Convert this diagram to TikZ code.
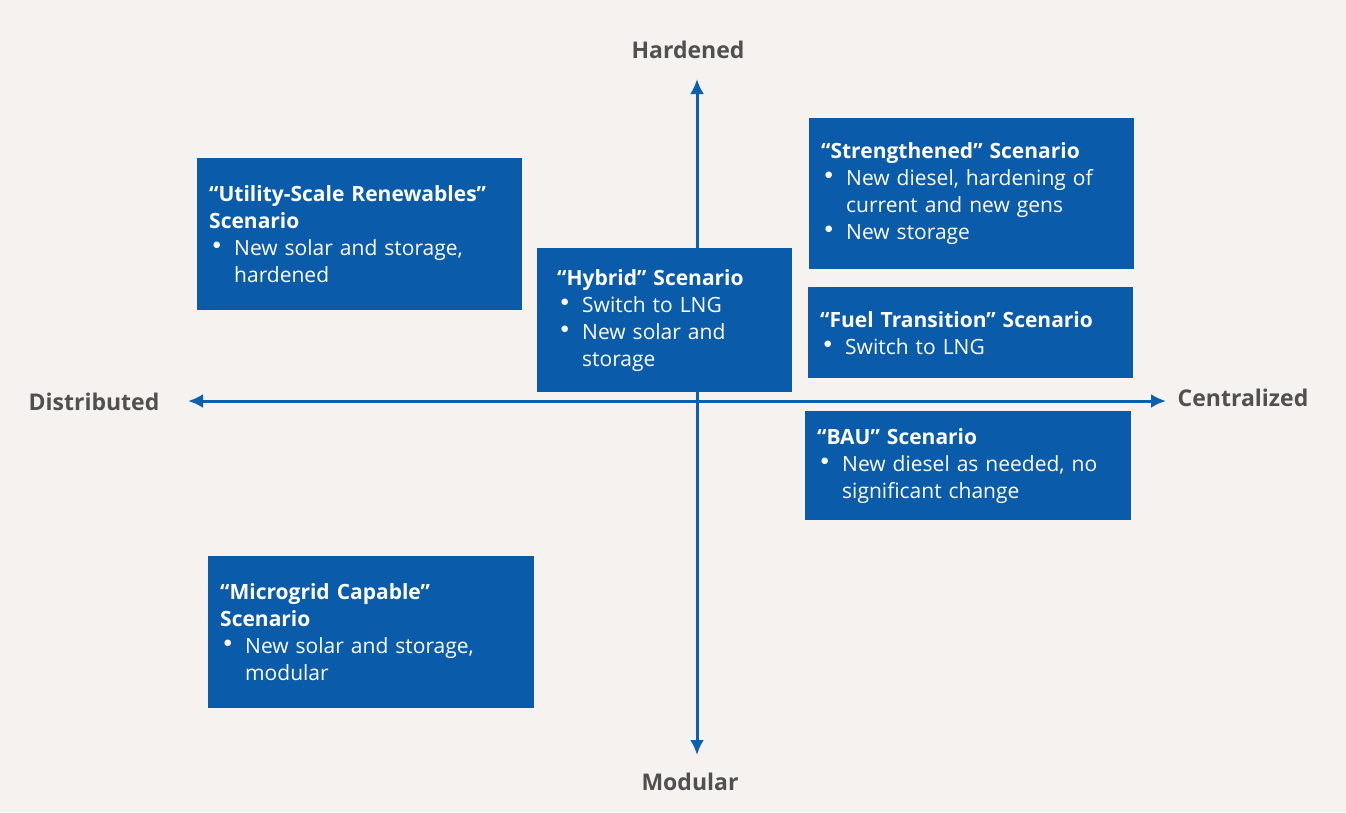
\documentclass[tikz,border=0pt]{standalone}
\usepackage{fontspec}
\setmainfont{Open Sans}
\newfontfamily\dejavu{DejaVu Sans}
\usetikzlibrary{arrows.meta}
\definecolor{bg}{HTML}{F5F2F0}
\definecolor{boxblue}{HTML}{0A5CAA}
\definecolor{axisblue}{HTML}{0D60AE}
\definecolor{labelgray}{HTML}{505050}
\newcommand{\nl}{\hfil\break}
\newcommand{\bitem}[1]{\par\hangindent=25pt\hangafter=1\noindent\makebox[25pt][l]{\hspace{4pt}\raisebox{8pt}{\dejavu\fontsize{8.5}{8.5}\selectfont ●}}#1\par}
\tikzset{
  scen/.style={fill=boxblue, text=white, anchor=north west, align=left,
    inner xsep=12pt, inner ysep=0pt, font=\fontsize{21}{27}\selectfont},
  axlabel/.style={text=labelgray, font=\bfseries\fontsize{23}{27}\selectfont},
  axis/.style={draw=axisblue, line width=3pt,
    arrows={Latex[length=15pt,width=14pt]-Latex[length=15pt,width=14pt]}},
}
\begin{document}
\begin{tikzpicture}[x=1pt,y=-1pt]
\fill[bg] (0,0) rectangle (1346,812);
\useasboundingbox (0,0) rectangle (1346,812);
% axes
\coordinate (top) at (697,79);
\coordinate (bottom) at (697,755);
\coordinate (left) at (188,401);
\coordinate (right) at (1166,401);
\draw[axis] (bottom) -- (top);
\draw[axis] (left) -- (right);
\node[axlabel] (hard) at (688,50) {Hardened};
\node[axlabel] (mod) at (690,782) {Modular};
\node[axlabel] (dist) at (94,402) {Distributed};
\node[axlabel] (cent) at (1243,398) {Centralized};
% boxes
\node[scen, text width=301pt, minimum height=152pt] (util) at (197,158)
  {\textbf{“Utility-Scale Renewables”\\Scenario}\bitem{New solar and storage,\nl hardened}};
\node[scen, inner xsep=20pt, text width=215pt, minimum height=144pt] (hyb) at (537,248)
  {\textbf{“Hybrid” Scenario}\bitem{Switch to LNG}\bitem{New solar and\nl storage}};
\node[scen, text width=301pt, minimum height=151pt] (str) at (809,118)
  {\textbf{“Strengthened” Scenario}\bitem{New diesel, hardening of\nl current and new gens}\bitem{New storage}};
\node[scen, text width=301pt, minimum height=91pt] (fuel) at (808,287)
  {\textbf{“Fuel Transition” Scenario}\bitem{Switch to LNG}};
\node[scen, text width=302pt, minimum height=109pt] (bau) at (805,411)
  {\textbf{“BAU” Scenario}\bitem{New diesel as needed, no\nl significant change}};
\node[scen, text width=302pt, minimum height=152pt] (micro) at (208,556)
  {\textbf{“Microgrid Capable”\\Scenario}\bitem{New solar and storage,\nl modular}};
\end{tikzpicture}
\end{document}
